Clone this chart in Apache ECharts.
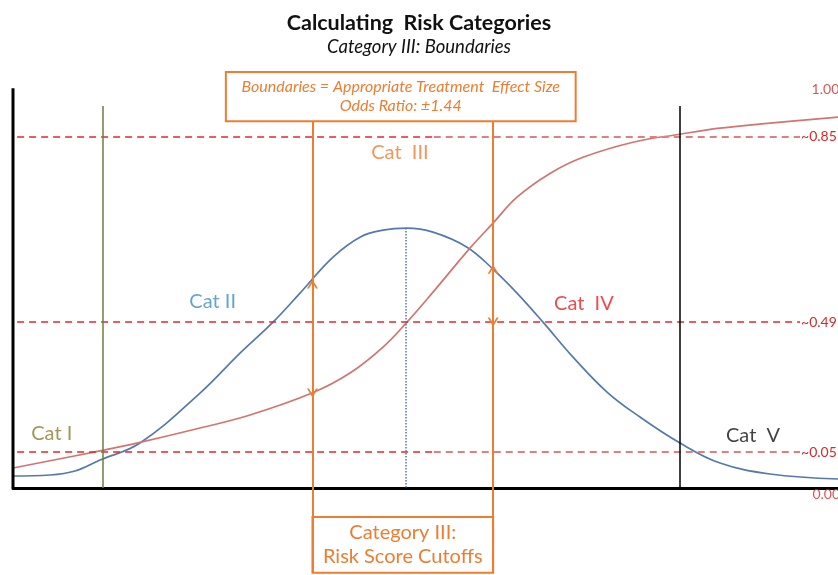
<!DOCTYPE html>
<html>
<head>
<meta charset="utf-8">
<script src="https://cdn.jsdelivr.net/npm/echarts@6/dist/echarts.min.js"></script>
<style>html,body{margin:0;padding:0;background:#fff}#c{width:838px;height:575px}</style>
</head>
<body>
<div id="c"></div>
<script>
// ---- data (arbitrary 0-100 units for score and height) ----
const blueX = [0, 4.48, 7.52, 10.55, 15.39, 22.67, 27.52, 31.52, 34.79, 38.79, 42.06, 44.85, 47.76, 50.91, 55.03, 58.18, 61.09, 64.24, 67.88, 72.0, 76.0, 80.85, 85.7, 91.76, 100];
const blueY = [2.97, 3.22, 4.21, 6.93, 11.14, 23.51, 33.42, 41.09, 48.27, 57.18, 62.13, 63.86, 64.36, 63.37, 59.65, 54.21, 48.27, 41.09, 32.43, 23.76, 17.57, 11.14, 6.19, 3.47, 2.23];
const redX = [0, 10.55, 15.39, 22.67, 28.73, 36.24, 40.85, 44.85, 47.76, 50.91, 55.39, 58.18, 61.09, 65.09, 69.09, 75.15, 80.85, 85.7, 91.76, 100];
const redY = [4.95, 9.2, 11.3, 14.85, 18.07, 23.51, 28.47, 34.9, 41.09, 48.5, 59.41, 65.59, 72.03, 77.9, 81.9, 85.64, 87.62, 89.11, 90.35, 91.83];
const thresholdValues = [87.1, 41.1, 8.9];
const thresholdLabels = ['~0.85', '~0.49', '~0.05'];
const scaleLabels = ['1.00', '0.00'];
const cutoffs = [10.9, 36.3, 47.6, 58.2, 80.8]; // Cat I|II, III left, centre, III right, IV|V
const leftArrow = [50.5, 23.5];
const rightArrow = [54.2, 41.1];
const catNames = ['Cat I', 'Cat II', 'Cat  III', 'Cat  IV', 'Cat  V'];

const FONT = 'Lato, "Open Sans", sans-serif';
const ORANGE = '#ed7d31';
const DASHRED = '#e0282c';
const DASHPINK = '#df7f80';
const zip = (a, b) => a.map((v, i) => [v, b[i]]);
const chev = 'path://M0,10 L5,0 L10,10 L8.2,10 L5,3.6 L1.8,10 Z';

const dashSegs = [];
thresholdValues.forEach((v, i) => {
  const lbl = {show: true, position: 'end', formatter: thresholdLabels[i], color: '#d42a2a', fontSize: 14, fontFamily: FONT, distance: 1};
  if (i === 1) {
    dashSegs.push([{coord: [0.5, v], lineStyle: {color: DASHRED, width: 1.6, type: [7, 5]}, label: lbl}, {coord: [95.4, v]}]);
  } else {
    dashSegs.push([{coord: [0.5, v], lineStyle: {color: DASHRED, width: 1.5, type: [7, 5]}, label: {show: false}}, {coord: [51.0, v]}]);
    dashSegs.push([{coord: [51.0, v], lineStyle: {color: DASHPINK, width: 2.2, type: [7, 5]}, label: lbl}, {coord: [95.4, v]}]);
  }
});

const chart = echarts.init(document.getElementById('c'), null, {renderer: 'canvas'});
chart.setOption({
  animation: false,
  textStyle: {fontFamily: FONT},
  title: {
    text: 'Calculating  Risk Categories',
    subtext: 'Category III: Boundaries',
    left: 'center', top: 7, itemGap: 4,
    textStyle: {fontFamily: FONT, fontSize: 21.5, fontWeight: 'bold', color: '#111'},
    subtextStyle: {fontFamily: FONT, fontSize: 18.5, fontStyle: 'italic', color: '#111'}
  },
  grid: {left: 13, right: 0, top: 60, bottom: 2.2},
  xAxis: {type: 'value', min: 0, max: 100,
    axisLine: {show: true, onZero: true, lineStyle: {color: '#000', width: 3}},
    axisTick: {show: false}, axisLabel: {show: false}, splitLine: {show: false}},
  yAxis: {type: 'value', min: -21, max: 106,
    axisLine: {show: false}, axisTick: {show: false}, axisLabel: {show: false}, splitLine: {show: false}},
  series: [
    {
      name: 'axis', type: 'line', data: [[0, 0], [0, 99]], symbol: 'none', z: 5,
      lineStyle: {color: '#000', width: 3},
      markLine: {
        silent: true, symbol: 'none', animation: false,
        data: [
          ...dashSegs,
          [{coord: [cutoffs[0], 94.6], lineStyle: {color: '#6f7f3a', width: 1.5, type: 'solid'}, label: {show: false}}, {coord: [cutoffs[0], 0]}],
          [{coord: [cutoffs[4], 94.6], lineStyle: {color: '#000', width: 1.5, type: 'solid'}, label: {show: false}}, {coord: [cutoffs[4], 0]}],
          [{coord: [cutoffs[2], 64.4], lineStyle: {color: '#4f78b8', width: 1.5, type: [1.5, 1.5]}, label: {show: false}}, {coord: [cutoffs[2], 0]}],
          [{coord: [cutoffs[1], 90.8], lineStyle: {color: ORANGE, width: 2, type: 'solid'}, label: {show: false}}, {coord: [cutoffs[1], -21]}],
          [{coord: [cutoffs[3], 90.8], lineStyle: {color: ORANGE, width: 2, type: 'solid'}, label: {show: false}}, {coord: [cutoffs[3], -21]}]
        ]
      },
      markArea: {
        silent: true,
        data: [
          [{coord: [25.8, 103], itemStyle: {color: 'rgba(255,255,255,0)', borderColor: ORANGE, borderWidth: 2},
            label: {show: true, position: 'inside', formatter: 'Boundaries = Appropriate Treatment  Effect Size\nOdds Ratio: ±1.44',
              color: ORANGE, fontStyle: 'italic', fontSize: 16, lineHeight: 19, fontFamily: FONT}},
           {coord: [68.2, 90.8]}],
          [{coord: [cutoffs[1], -7.2], itemStyle: {color: 'rgba(255,255,255,0)', borderColor: ORANGE, borderWidth: 2},
            label: {show: true, position: 'inside', formatter: 'Category III:\nRisk Score Cutoffs',
              color: ORANGE, fontSize: 20, lineHeight: 24, fontFamily: FONT}},
           {coord: [cutoffs[3], -21]}]
        ]
      }
    },
    {
      name: 'arrows', type: 'line', data: [], symbol: 'none',
      markLine: {
        silent: true, symbol: [chev, chev], symbolSize: [11, 9], animation: false,
        lineStyle: {color: ORANGE, width: 2, type: 'solid'}, label: {show: false},
        data: [
          [{coord: [cutoffs[1], leftArrow[0]]}, {coord: [cutoffs[1], leftArrow[1]]}],
          [{coord: [cutoffs[3], rightArrow[0]]}, {coord: [cutoffs[3], rightArrow[1]]}]
        ]
      }
    },
    {
      name: 'Distribution', type: 'line', smooth: 0.4, symbol: 'none', z: 4,
      data: zip(blueX, blueY), lineStyle: {color: '#5679ad', width: 1.7}
    },
    {
      name: 'Risk', type: 'line', smooth: 0.4, symbol: 'none', z: 4,
      data: zip(redX, redY), lineStyle: {color: '#d27472', width: 1.7}
    },
    {
      name: 'labels', type: 'scatter', symbolSize: 0, z: 6, silent: true,
      label: {show: true, position: 'inside', fontFamily: FONT, fontSize: 20, formatter: p => p.name},
      data: [
        {name: catNames[0], value: [4.7, 13.4], label: {color: '#8a7d2c'}},
        {name: catNames[1], value: [24.2, 46.3], label: {color: '#3f8fc0'}},
        {name: catNames[2], value: [46.9, 83.2], label: {color: ORANGE}},
        {name: catNames[3], value: [69.2, 45.8], label: {color: '#ee1c24'}},
        {name: catNames[4], value: [89.7, 13.1], label: {color: '#111'}},
        {name: scaleLabels[0], value: [96.8, 98.6], label: {color: '#d42a2a', fontSize: 14, position: 'right', distance: 0}},
        {name: scaleLabels[1], value: [96.9, -1.5], label: {color: '#d42a2a', fontSize: 14, position: 'right', distance: 0}}
      ]
    }
  ]
});
</script>
</body>
</html>
